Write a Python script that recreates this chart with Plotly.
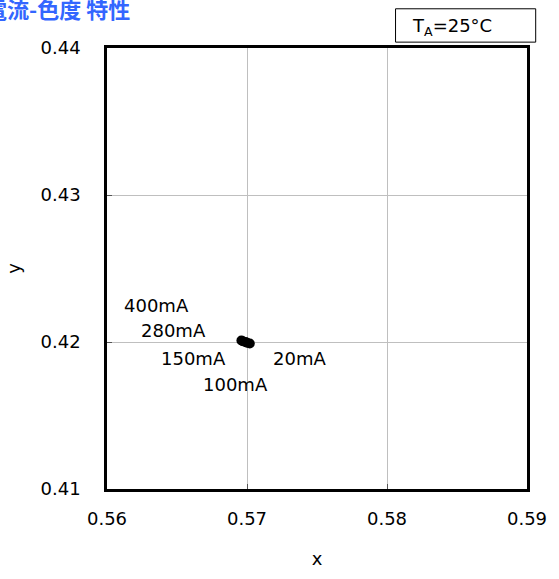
import plotly.graph_objects as go

# Data: chromaticity (x, y) vs forward current
currents = ["400mA", "280mA", "150mA", "100mA", "20mA"]
cie_x = [0.5696, 0.5697, 0.5699, 0.5700, 0.5702]
cie_y = [0.42010, 0.42005, 0.42000, 0.41995, 0.41990]

# label placement (data coordinates)
label_x = [0.56352, 0.56478, 0.56618, 0.56919, 0.57378]
label_y = [0.42249, 0.42076, 0.41885, 0.41708, 0.41885]

x_ticks = [0.56, 0.57, 0.58, 0.59]
y_ticks = [0.41, 0.42, 0.43, 0.44]

FONT = "DejaVu Sans"

fig = go.Figure()
fig.add_trace(go.Scatter(
    x=cie_x, y=cie_y, mode="lines+markers",
    line=dict(color="black", width=8),
    marker=dict(color="black", size=10),
    showlegend=False, hoverinfo="skip",
))

for t, lx, ly in zip(currents, label_x, label_y):
    fig.add_annotation(x=lx, y=ly, xref="x", yref="y", text=t, showarrow=False,
                       font=dict(family=FONT, size=18, color="black"),
                       xanchor="center", yanchor="middle")

# title (partially cut at the left edge, as in the reference)
fig.add_annotation(x=0.0603, y=1.0913, xref="paper", yref="paper",
                   text="<b>電流-色度 特性</b>", showarrow=False,
                   xanchor="right", yanchor="middle",
                   font=dict(family="Noto Sans CJK JP", size=22, color="#3366ff"))

# temperature box
fig.add_shape(type="rect", xref="paper", yref="paper",
              x0=0.687, x1=1.0207, y0=1.0133, y1=1.0889,
              line=dict(color="black", width=1), fillcolor="white", layer="above")
fig.add_annotation(x=0.7218, y=1.0467, xref="paper", yref="paper",
                   text="T<sub>A</sub>=25°C", showarrow=False,
                   xanchor="left", yanchor="middle",
                   font=dict(family=FONT, size=18, color="black"))

axis_common = dict(
    showline=True, linecolor="black", linewidth=2.5, mirror=True,
    showgrid=True, gridcolor="#bfbfbf", gridwidth=1,
    ticks="inside", ticklen=5, tickcolor="#555555", tickwidth=1,
    tickfont=dict(family=FONT, size=18, color="black"),
    zeroline=False,
)

fig.update_xaxes(range=[0.56, 0.59], tickvals=x_ticks,
                 ticktext=[f"{v:.2f}" for v in x_ticks],
                 title=dict(text="x", font=dict(family=FONT, size=18, color="black"), standoff=25),
                 ticklabelstandoff=12, **axis_common)
fig.update_yaxes(range=[0.41, 0.44], tickvals=y_ticks,
                 ticktext=[f"{v:.2f}" for v in y_ticks],
                 title=dict(text="y", font=dict(family=FONT, size=18, color="black"), standoff=16),
                 ticklabelstandoff=20, **axis_common)

fig.update_layout(
    width=559, height=579,
    margin=dict(l=107, r=21, t=48, b=82),
    plot_bgcolor="white", paper_bgcolor="white",
    font=dict(family=FONT, size=18, color="black"),
)

fig.write_html("out.html",
               config={"displayModeBar": False},
               post_script="document.body.style.margin='0';document.body.style.overflow='hidden';")
